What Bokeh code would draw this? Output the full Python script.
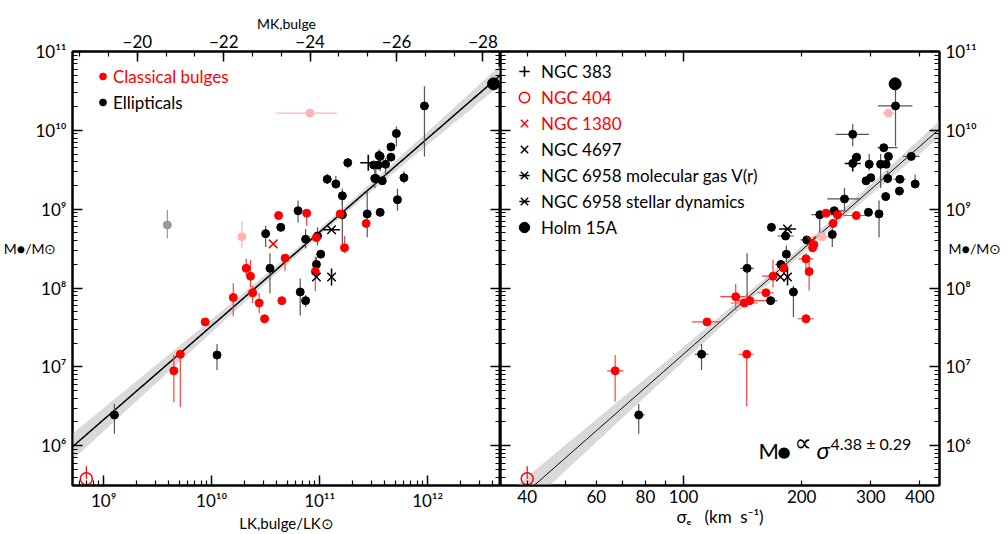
import numpy as np
from bokeh.plotting import figure
from bokeh.layouts import row
from bokeh.models import (Range1d, LinearAxis, LogAxis, LinearScale, FixedTicker, Legend,
                          LegendItem, Label, CustomJSTickFormatter)
from bokeh.embed import file_html
from bokeh.resources import INLINE

nan = float("nan")
FONT = "Lato"

# ---------------- data: log10 values ----------------
# Left panel: log L_K,bulge  vs  log M_BH
cbL_logL = [10.62, 10.88, 10.68, 10.32, 10.36, 10.38, 10.20, 10.44, 10.65, 10.49, 9.94, 11.23, 11.43, 10.96, 11.19, 10.97, 9.71, 9.65]
cbL_logM = [8.92, 8.95, 8.38, 8.25, 8.15, 7.94, 7.88, 7.81, 7.84, 7.61, 7.57, 8.51, 8.82, 8.21, 8.94, 8.64, 7.16, 6.95]
cbL_lo = [nan, 8.79, 8.22, 8.16, 8.01, 7.81, 7.64, 7.68, nan, nan, nan, 8.44, nan, 7.96, nan, nan, 6.49, 6.55]
cbL_hi = [nan, 8.97, 8.41, 8.37, 8.36, 8.03, 8.06, 7.94, nan, nan, nan, 8.66, nan, 8.40, nan, nan, 7.21, 7.15]

elL_logL = [10.50, 10.64, 10.80, 10.54, 10.87, 10.98, 11.07, 11.15, 11.21, 11.21, 11.26, 11.01, 10.97, 10.82, 10.87, 11.44, 11.56,
            11.51, 11.50, 11.55, 11.97, 11.71, 11.66, 11.66, 11.56, 11.54, 11.61, 11.52, 11.58, 11.78, 11.72, 10.05, 9.10]
elL_logM = [8.69, 8.77, 8.98, 8.25, 8.62, 8.66, 9.38, 9.32, 9.17, 8.93, 9.59, 8.43, 8.30, 7.95, 7.84, 8.94, 8.96,
            9.39, 9.56, 9.68, 10.31, 9.96, 9.79, 9.66, 9.67, 9.56, 9.57, 9.39, 9.36, 9.40, 9.12, 7.15, 6.39]
elL_lo = [8.52, nan, 8.83, 7.93, 8.50, 8.54, 9.32, 9.26, 9.04, 8.56, 9.52, nan, 8.16, 7.65, 7.76, 8.64, nan,
          9.27, nan, 9.57, 9.67, 9.80, nan, nan, 9.48, nan, 9.42, 9.33, nan, 9.33, 8.98, 6.96, 6.15]
elL_hi = [8.79, nan, 9.11, 8.44, 8.75, 8.77, 9.45, 9.42, 9.26, 9.11, 9.65, nan, 8.39, 8.12, 7.91, 9.23, nan,
          9.51, nan, 9.76, 10.56, 10.05, nan, nan, 9.74, nan, 9.65, 9.52, nan, 9.48, 9.26, 7.29, 6.53]

pkL_logL = [10.91, 10.28]
pkL_logM = [10.22, 8.65]
pkL_Llo = [10.60, nan]
pkL_Lhi = [11.16, nan]
pkL_lo = [10.17, 8.50]
pkL_hi = [10.27, 8.85]

gyL_logL = [9.59]
gyL_logM = [8.80]
gyL_lo = [8.63]
gyL_hi = [8.99]

# Right panel: log sigma_e  vs  log M_BH
cbR_logS = [1.826, 2.060, 2.161, 2.133, 2.155, 2.169, 2.210, 2.228, 2.256, 2.312, 2.320, 2.312, 2.329, 2.332, 2.381, 2.363, 2.392, 2.440]
cbR_logM = [6.95, 7.57, 7.16, 7.89, 7.81, 7.84, 7.94, 8.15, 8.25, 8.37, 8.21, 7.61, 8.51, 8.55, 8.82, 8.95, 8.93, 8.92]
cbR_Slo = [1.806, 2.022, 2.140, 2.094, 2.120, 2.137, 2.188, 2.200, nan, 2.293, nan, 2.291, nan, nan, nan, nan, 2.370, 2.409]
cbR_Shi = [1.847, 2.094, 2.178, 2.158, 2.190, 2.230, 2.230, 2.250, nan, 2.330, nan, 2.332, nan, nan, nan, nan, 2.410, 2.472]
cbR_lo = [6.56, nan, 6.50, 7.72, nan, nan, nan, 8.01, nan, 8.16, 7.97, nan, nan, nan, nan, nan, nan, nan]
cbR_hi = [7.15, nan, 7.21, 8.05, nan, nan, nan, 8.36, nan, 8.44, 8.35, nan, nan, nan, nan, nan, nan, nan]

elR_logS = [2.540, 2.431, 2.510, 2.441, 2.431, 2.473, 2.502, 2.516, 2.522, 2.580, 2.465, 2.477, 2.520, 2.551, 2.550, 2.590, 2.515,
            2.410, 2.384, 2.347, 2.471, 2.498, 2.379, 2.314, 2.224, 2.260, 2.262, 2.248, 2.280, 2.222, 2.162, 2.046, 1.886]
elR_logM = [10.31, 9.95, 9.78, 9.66, 9.58, 9.57, 9.57, 9.57, 9.67, 9.67, 9.36, 9.40, 9.39, 9.38, 9.23, 9.32, 9.16,
            9.13, 8.98, 8.93, 8.96, 8.94, 8.68, 8.61, 8.77, 8.66, 8.43, 8.30, 7.95, 7.84, 8.25, 7.16, 6.39]
elR_Slo = [2.495, 2.387, 2.494, nan, nan, nan, nan, nan, nan, 2.559, nan, nan, nan, 2.535, nan, nan, nan,
           2.366, 2.366, 2.326, nan, nan, nan, 2.298, nan, 2.239, nan, 2.234, nan, 2.208, 2.145, 2.028, 1.875]
elR_Shi = [2.583, 2.472, 2.545, nan, nan, nan, nan, nan, nan, 2.601, nan, nan, nan, 2.566, nan, nan, nan,
           2.451, 2.413, 2.369, nan, nan, nan, 2.329, nan, 2.281, nan, 2.264, nan, 2.239, 2.179, 2.064, 1.901]
elR_lo = [9.80, 9.80, nan, nan, nan, 9.49, 9.27, nan, nan, nan, nan, nan, 9.33, nan, nan, 9.27, 9.13,
          8.98, nan, 8.63, nan, 8.64, 8.52, nan, nan, 8.61, 8.33, nan, 7.63, nan, 7.84, 6.96, 6.15]
elR_hi = [10.52, 10.08, nan, nan, nan, 9.70, 9.70, nan, nan, nan, nan, nan, 9.48, nan, nan, 9.44, 9.21,
          9.27, nan, 8.95, nan, 9.11, 8.79, nan, nan, 8.76, 8.54, nan, 8.03, nan, 8.44, 7.29, 6.53]

pkR_logS = [2.522, 2.353]
pkR_logM = [10.22, 8.65]
pkR_Slo = [2.507, 2.327]
pkR_Shi = [2.537, 2.378]

# Highlighted objects (same order in both panels)
sp_names = ["NGC 383", "NGC 404", "NGC 1380", "NGC 4697",
            "NGC 6958 molecular gas V(r)", "NGC 6958 stellar dynamics", "Holm 15A"]
spL_logL = [11.45, 8.84, 10.57, 10.97, 11.11, 11.11, 12.61]
spL_logM = [9.59, 5.58, 8.56, 8.14, 8.14, 8.74, 10.59]
spR_logS = [2.431, 1.602, 2.326, 2.247, 2.265, 2.265, 2.539]
spR_logM = [9.58, 5.58, 8.60, 8.14, 8.14, 8.75, 10.59]
n404_logM_hi = 5.74

# Fits: log M = a + b (x - x0), band from parameter errors
fitL = dict(a=8.71, b=1.19, x0=11.0, ea=0.045, eb=0.07)
fitS = dict(a=8.48, b=4.38, x0=np.log10(200.0), ea=0.05, eb=0.26)

M_SUN_K = 3.28
xL_log = (8.712, 12.674)
xS_log = (1.534, 2.652)
y_log = (5.495, 11.0005)

# ---------------- helpers ----------------
def lin(a):
    return 10.0 ** np.asarray(a, dtype=float)

RED = "#ff0000"
PINK = "#ffb3b3"
GRAY = "#999999"
ERR_K = "#555555"
ERR_R = "#ff4040"
BAND = "#d9d9d9"
YLABEL = "M\u25cf/M\u2299\n\n"

pow_fmt = CustomJSTickFormatter(code="""
const sup = {"0":"\u2070","1":"\u00b9","2":"\u00b2","3":"\u00b3","4":"\u2074","5":"\u2075","6":"\u2076","7":"\u2077","8":"\u2078","9":"\u2079","-":"\u207b"};
const e = Math.round(Math.log10(tick));
return "10" + String(e).split("").map(c => sup[c]).join("");
""")
int_fmt = CustomJSTickFormatter(code="return String(Math.round(tick));")
mag_fmt = CustomJSTickFormatter(code="return (tick < 0 ? '\u2212' : '') + String(Math.abs(Math.round(tick)));")
blank_fmt = CustomJSTickFormatter(code="return '';")

def decade_ticker(lo, hi):
    majors = [10.0 ** k for k in range(lo, hi + 1)]
    minors = [m * 10.0 ** k for k in range(lo - 1, hi + 1) for m in range(2, 10)]
    return FixedTicker(ticks=majors, minor_ticks=minors)

def style_axis(ax, major_in=10, minor_in=5):
    ax.axis_line_width = 2
    ax.axis_line_color = "black"
    ax.major_tick_in = major_in
    ax.major_tick_out = 0
    ax.minor_tick_in = minor_in
    ax.minor_tick_out = 0
    ax.major_tick_line_width = 1.5
    ax.minor_tick_line_width = 1.2
    ax.major_tick_line_color = "black"
    ax.minor_tick_line_color = "black"
    ax.major_label_text_font = FONT
    ax.major_label_text_font_size = "17px"
    ax.major_label_text_color = "black"
    ax.major_label_standoff = 4
    ax.axis_label_text_font = FONT
    ax.axis_label_text_font_style = "normal"
    ax.axis_label_text_font_size = "15px"
    ax.axis_label_text_color = "black"
    ax.axis_label_standoff = 0

def bare(ax):
    ax.formatter = blank_fmt
    ax.major_label_text_font_size = "0px"
    ax.major_label_standoff = 0
    ax.axis_label = None

def ylabel_axis(standoff):
    # axis carrying only the (horizontal) M_BH label, no line, no ticks
    ax = LogAxis(ticker=FixedTicker(ticks=[], minor_ticks=[]), formatter=blank_fmt,
                 axis_label_orientation="horizontal")
    style_axis(ax, 0, 0)
    bare(ax)
    ax.axis_label = YLABEL
    ax.axis_line_color = None
    ax.axis_label_standoff = standoff
    ax.axis_label_text_font_size = "14px"
    return ax

def new_fig(width, x_log, mbl, mbr):
    p = figure(width=width, height=534, x_axis_type="log", y_axis_type="log",
               x_range=Range1d(10 ** x_log[0], 10 ** x_log[1]),
               y_range=Range1d(10 ** y_log[0], 10 ** y_log[1]),
               output_backend="svg", toolbar_location=None,
               min_border_left=mbl, min_border_right=mbr, min_border_top=51, min_border_bottom=48)
    p.grid.visible = False
    p.outline_line_color = "black"
    p.outline_line_width = 2
    p.background_fill_color = "white"
    p.border_fill_color = "white"
    return p

def add_fit(p, fit, xr):
    xs = np.linspace(xr[0], xr[1], 200)
    yc = fit["a"] + fit["b"] * (xs - fit["x0"])
    dy = np.sqrt(fit["ea"] ** 2 + (fit["eb"] * (xs - fit["x0"])) ** 2)
    p.varea(x=lin(xs), y1=lin(yc - dy), y2=lin(yc + dy), fill_color=BAND, fill_alpha=1.0)
    return xs, yc

def add_specials(p, xs_log, ys_log):
    X = lin(xs_log); Y = lin(ys_log)
    r = {}
    r["383"] = [p.scatter([X[0]], [Y[0]], marker="cross", size=16, line_color="black", line_width=1.6)]
    r["404"] = [p.scatter([X[1]], [Y[1]], marker="circle", size=12, line_color=RED, fill_color=None, line_width=1.5)]
    r["1380"] = [p.scatter([X[2]], [Y[2]], marker="x", size=12, line_color=RED, line_width=1.5)]
    r["4697"] = [p.scatter([X[3]], [Y[3]], marker="x", size=12, line_color="black", line_width=1.5)]
    r["gas"] = [p.scatter([X[4]], [Y[4]], marker="x", size=12, line_color="black", line_width=1.5),
                p.scatter([X[4]], [Y[4]], marker="dash", size=17, angle=np.pi / 2, line_color="black", line_width=1.5)]
    r["stel"] = [p.scatter([X[5]], [Y[5]], marker="x", size=12, line_color="black", line_width=1.5),
                 p.scatter([X[5]], [Y[5]], marker="dash", size=17, line_color="black", line_width=1.5)]
    r["holm"] = [p.scatter([X[6]], [Y[6]], marker="circle", size=12, color="black")]
    return r

def one_legend(items, x, y, color, gw, gh):
    return Legend(items=items, location=(x, y), orientation="vertical",
                  label_text_font=FONT, label_text_font_size="17px", label_text_color=color,
                  glyph_width=gw, glyph_height=gh, label_height=gh, label_standoff=2,
                  spacing=0, padding=0, margin=0,
                  border_line_color=None, background_fill_alpha=0)

# ============ left panel ============
p1 = new_fig(500, xL_log, 69, 0)
p1.xaxis.ticker = decade_ticker(9, 12)
p1.xaxis.formatter = pow_fmt
p1.yaxis.ticker = decade_ticker(6, 11)
p1.yaxis.formatter = pow_fmt
style_axis(p1.xaxis[0])
style_axis(p1.yaxis[0])
p1.yaxis[0].major_label_standoff = 6
p1.xaxis[0].axis_label = "LK,bulge/LK\u2299"
p1.add_layout(ylabel_axis(-24), "left")

ax = LogAxis(ticker=decade_ticker(6, 11))
style_axis(ax); bare(ax)
p1.add_layout(ax, "right")

p1.extra_x_ranges = {"mag": Range1d(M_SUN_K - 2.5 * xL_log[0], M_SUN_K - 2.5 * xL_log[1])}
p1.extra_x_scales = {"mag": LinearScale()}
mag_ax = LinearAxis(x_range_name="mag",
                    ticker=FixedTicker(ticks=[-20, -22, -24, -26, -28],
                                       minor_ticks=[round(-28 + k * 2.0 / 3.0, 3) for k in range(15)]),
                    formatter=mag_fmt, axis_label="MK,bulge")
style_axis(mag_ax)
mag_ax.axis_label_text_font_size = "14px"
p1.add_layout(mag_ax, "above")

xs, yc = add_fit(p1, fitL, xL_log)
p1.line(lin(xs), lin(yc), line_color="black", line_width=1.5)

p1.segment(lin(elL_logL), lin(elL_lo), lin(elL_logL), lin(elL_hi), line_color=ERR_K, line_width=1.2)
p1.segment(lin(cbL_logL), lin(cbL_lo), lin(cbL_logL), lin(cbL_hi), line_color=ERR_R, line_width=1.2)
p1.segment(lin(pkL_logL), lin(pkL_lo), lin(pkL_logL), lin(pkL_hi), line_color=PINK, line_width=1.2)
p1.segment(lin(pkL_Llo), lin(pkL_logM), lin(pkL_Lhi), lin(pkL_logM), line_color=PINK, line_width=1.2)
p1.segment(lin(gyL_logL), lin(gyL_lo), lin(gyL_logL), lin(gyL_hi), line_color=GRAY, line_width=1.2)
p1.segment(lin([spL_logL[1]]), lin([spL_logM[1]]), lin([spL_logL[1]]), lin([n404_logM_hi]), line_color=RED, line_width=1.2)

p1.scatter(lin(pkL_logL), lin(pkL_logM), size=8, color=PINK)
p1.scatter(lin(gyL_logL), lin(gyL_logM), size=8, color=GRAY)
rL_el = p1.scatter(lin(elL_logL), lin(elL_logM), size=8, color="black")
rL_cb = p1.scatter(lin(cbL_logL), lin(cbL_logM), size=8, color=RED)
add_specials(p1, spL_logL, spL_logM)

p1.add_layout(one_legend([LegendItem(label="Classical bulges", renderers=[rL_cb])], 22, 396, RED, 17, 26))
p1.add_layout(one_legend([LegendItem(label="Ellipticals", renderers=[rL_el])], 22, 370, "black", 17, 26))

# ============ right panel ============
p2 = new_fig(507, xS_log, 0, 68)
b0 = p2.xaxis[0]
b0.ticker = FixedTicker(ticks=[100], minor_ticks=[40, 50, 60, 70, 80, 90, 200, 300, 400])
style_axis(b0); bare(b0)
b1 = LogAxis(ticker=FixedTicker(ticks=[40, 60, 80, 100, 200, 300, 400], minor_ticks=[]),
             formatter=int_fmt, axis_label="\u03c3\u2091\u00a0\u00a0 (km\u00a0 s\u207b\u00b9)")
style_axis(b1, 0, 0)
b1.axis_line_color = None
b1.axis_label_text_font_size = "17px"
p2.add_layout(b1, "below")

t0 = LogAxis(ticker=FixedTicker(ticks=[100], minor_ticks=[40, 50, 60, 70, 80, 90, 200, 300, 400]))
style_axis(t0); bare(t0)
p2.add_layout(t0, "above")

p2.yaxis.ticker = decade_ticker(6, 11)
style_axis(p2.yaxis[0]); bare(p2.yaxis[0])
ry = LogAxis(ticker=decade_ticker(6, 11), formatter=pow_fmt)
style_axis(ry)
ry.major_label_standoff = 6
p2.add_layout(ry, "right")
p2.add_layout(ylabel_axis(-31), "right")

xs, yc = add_fit(p2, fitS, xS_log)
p2.line(lin(xs), lin(yc), line_color="black", line_width=1.0)

p2.segment(lin(elR_logS), lin(elR_lo), lin(elR_logS), lin(elR_hi), line_color=ERR_K, line_width=1.2)
p2.segment(lin(elR_Slo), lin(elR_logM), lin(elR_Shi), lin(elR_logM), line_color=ERR_K, line_width=1.2)
p2.segment(lin(cbR_logS), lin(cbR_lo), lin(cbR_logS), lin(cbR_hi), line_color=ERR_R, line_width=1.2)
p2.segment(lin(cbR_Slo), lin(cbR_logM), lin(cbR_Shi), lin(cbR_logM), line_color=ERR_R, line_width=1.2)
p2.segment(lin(pkR_Slo), lin(pkR_logM), lin(pkR_Shi), lin(pkR_logM), line_color=PINK, line_width=1.2)
p2.segment(lin([spR_logS[1]]), lin([spR_logM[1]]), lin([spR_logS[1]]), lin([n404_logM_hi]), line_color=RED, line_width=1.2)

p2.scatter(lin(pkR_logS), lin(pkR_logM), size=8, color=PINK)
p2.scatter(lin(elR_logS), lin(elR_logM), size=8, color="black")
p2.scatter(lin(cbR_logS), lin(cbR_logM), size=8, color=RED)
rs = add_specials(p2, spR_logS, spR_logM)

keys = ["383", "404", "1380", "4697", "gas", "stel", "holm"]
items = [LegendItem(label=n, renderers=rs[k]) for n, k in zip(sp_names, keys)]
p2.add_layout(one_legend(items[0:1], 9, 401, "black", 30, 26))
p2.add_layout(one_legend(items[1:3], 9, 349, RED, 30, 26))
p2.add_layout(one_legend(items[3:7], 9, 245, "black", 30, 26))

# relation annotation (positions in px from the frame's bottom-left)
for txt, x, y, size, font, style, base in [
        ("M", 258, 35, "22px", FONT, "normal", "alphabetic"),
        ("\u25cf", 277, 34, "15px", "DejaVu Sans", "normal", "middle"),
        ("\u221d", 294, 43, "24px", "DejaVu Sans", "normal", "middle"),
        ("\u03c3", 316, 36, "24px", FONT, "italic", "alphabetic"),
        ("4.38 \u00b1 0.29", 330, 42, "16px", FONT, "normal", "alphabetic")]:
    p2.add_layout(Label(x=x, y=y, x_units="screen", y_units="screen", text=txt,
                        text_font=font, text_font_size=size, text_font_style=style,
                        text_color="black", text_baseline=base))

layout = row(p1, p2)
open("out.html", "w", encoding="utf-8").write(file_html(layout, INLINE))
